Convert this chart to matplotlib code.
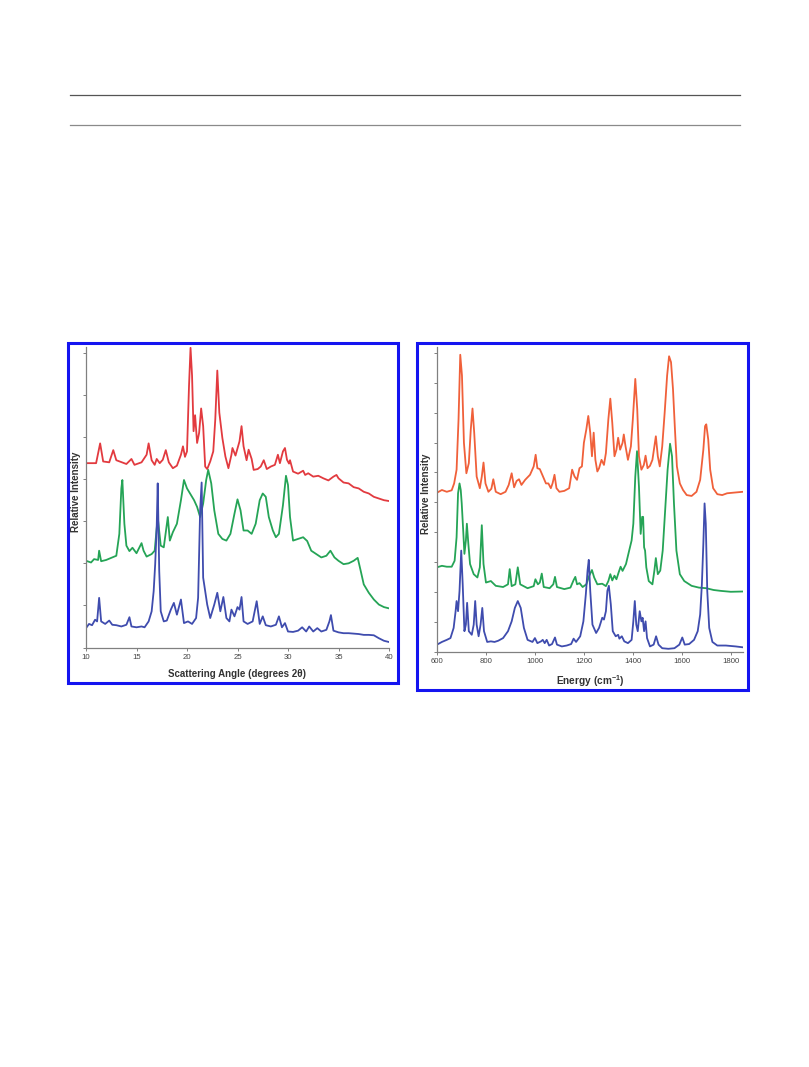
#
#   Imports
#

import matplotlib.pyplot as plt
from matplotlib.patches import Rectangle
from matplotlib.lines import Line2D

#
#   Data
#

# Left panel: powder X-ray diffraction, three samples
xrd_red_x = [10.0, 11.0, 11.4, 11.7, 12.3, 12.7, 13.0, 14.0, 14.5, 14.8, 15.5, 16.0, 16.2, 16.5,
             16.8, 17.0, 17.3, 17.6, 17.9, 18.2, 18.6, 19.0, 19.4, 19.6, 19.8, 20.0, 20.2, 20.35,
             20.5, 20.65, 20.8, 21.0, 21.2, 21.4, 21.6, 21.8, 22.0, 22.3, 22.6, 22.8, 23.0, 23.2,
             23.5, 23.8, 24.1, 24.4, 24.5, 24.8, 25.2, 25.4, 25.6, 25.9, 26.1, 26.4, 26.6, 27.0,
             27.3, 27.6, 27.9, 28.3, 28.7, 29.0, 29.2, 29.5, 29.7, 29.9, 30.1, 30.2, 30.5, 31.0,
             31.5, 31.7, 32.0, 32.5, 33.0, 33.5, 34.0, 34.5, 34.8, 35.0, 35.5, 36.0, 36.5, 37.0,
             37.5, 38.0, 38.5, 39.0, 39.5, 40.0]
xrd_red_y = [438, 438, 485, 442, 440, 469, 445, 436, 448, 434, 440, 458, 485, 445,
             434, 448, 438, 446, 469, 440, 426, 432, 458, 478, 453, 466, 622, 712,
             646, 514, 552, 486, 510, 568, 526, 430, 424, 442, 466, 542, 658, 558,
             498, 454, 426, 458, 474, 456, 490, 526, 478, 445, 470, 448, 422, 424,
             430, 445, 424, 430, 434, 458, 438, 466, 474, 446, 437, 445, 418, 413,
             420, 410, 414, 406, 408, 402, 397, 406, 410, 402, 392, 390, 381, 378,
             370, 366, 358, 354, 350, 348]

xrd_green_x = [10.0, 10.5, 10.8, 11.2, 11.3, 11.5, 12.0, 12.5, 13.0, 13.3, 13.5, 13.6, 13.8, 14.0,
               14.3, 14.6, 15.0, 15.5, 15.7, 16.0, 16.5, 16.8, 17.1, 17.4, 17.7, 18.1, 18.3, 18.6,
               19.0, 19.4, 19.7, 20.0, 20.3, 20.7, 21.0, 21.3, 21.6, 21.9, 22.1, 22.4, 22.7, 23.1,
               23.5, 23.9, 24.3, 24.7, 25.0, 25.3, 25.6, 26.0, 26.4, 26.8, 27.2, 27.5, 27.8, 28.1,
               28.5, 28.8, 29.1, 29.5, 29.8, 30.0, 30.2, 30.5, 31.0, 31.5, 31.9, 32.3, 32.8, 33.3,
               33.8, 34.2, 34.6, 35.0, 35.5, 36.0, 36.5, 36.9, 37.2, 37.5, 38.0, 38.5, 39.0, 39.5,
               40.0]
xrd_green_y = [206, 202, 210, 208, 230, 205, 208, 213, 218, 270, 378, 398, 294, 242,
               229, 237, 224, 248, 230, 216, 222, 230, 310, 242, 238, 310, 254, 274,
               294, 350, 398, 378, 366, 350, 334, 310, 342, 398, 422, 390, 326, 270,
               258, 254, 270, 318, 352, 326, 278, 278, 270, 294, 350, 366, 358, 310,
               278, 262, 270, 338, 408, 386, 310, 254, 258, 262, 253, 230, 222, 214,
               218, 230, 214, 206, 198, 200, 206, 213, 182, 150, 130, 114, 102, 96,
               93]

xrd_blue_x = [10.0, 10.3, 10.6, 10.9, 11.1, 11.3, 11.5, 11.9, 12.3, 12.6, 13.0, 13.5, 14.0, 14.3,
              14.5, 15.0, 15.5, 15.8, 16.2, 16.5, 16.7, 16.85, 17.0, 17.1, 17.25, 17.4, 17.7, 18.0,
              18.4, 18.7, 19.0, 19.4, 19.7, 20.1, 20.5, 20.9, 21.1, 21.3, 21.45, 21.6, 21.8, 22.0,
              22.3, 22.7, 23.0, 23.3, 23.6, 23.9, 24.2, 24.4, 24.7, 25.0, 25.2, 25.4, 25.6, 26.0,
              26.5, 26.9, 27.2, 27.5, 27.8, 28.3, 28.8, 29.1, 29.4, 29.7, 30.0, 30.5, 31.0, 31.4,
              31.8, 32.1, 32.5, 32.9, 33.3, 33.8, 34.1, 34.25, 34.5, 35.0, 35.5, 36.0, 36.5, 37.0,
              37.5, 38.0, 38.5, 39.0, 39.5, 40.0]
xrd_blue_y = [46, 56, 53, 66, 62, 118, 62, 56, 64, 54, 53, 50, 54, 72,
              50, 48, 50, 48, 62, 86, 134, 198, 286, 390, 182, 86, 62, 64,
              90, 106, 78, 114, 58, 62, 56, 70, 118, 326, 392, 166, 134, 102,
              70, 102, 130, 86, 120, 70, 62, 90, 74, 96, 90, 120, 62, 56,
              62, 110, 56, 74, 53, 50, 54, 74, 48, 58, 38, 37, 40, 48,
              38, 50, 38, 46, 38, 42, 62, 77, 40, 36, 34, 34, 33, 32,
              30, 30, 29, 22, 16, 13]

xrd_ticks = [10, 15, 20, 25, 30, 35, 40]

# Right panel: Raman spectra, three samples
raman_red_x = [600, 620, 640, 660, 670, 680, 688, 695, 702, 710, 720, 730, 738, 745, 752, 762, 775,
               783, 790, 798, 810, 822, 830, 840, 860, 880, 893, 905, 915, 925, 935, 945, 960,
               980, 995, 1003, 1010, 1020, 1030, 1045, 1055, 1065, 1072, 1080, 1088, 1100, 1120,
               1140, 1152, 1162, 1172, 1182, 1192, 1200, 1210, 1218, 1226, 1233, 1240, 1247, 1255,
               1262, 1272, 1282, 1290, 1300, 1308, 1316, 1325, 1333, 1340, 1348, 1358, 1363, 1370,
               1380, 1392, 1400, 1410, 1418, 1425, 1435, 1445, 1452, 1460, 1470, 1480, 1488, 1494,
               1502, 1510, 1520, 1530, 1540, 1548, 1556, 1564, 1572, 1580, 1592, 1605, 1620, 1640,
               1660, 1675, 1688, 1695, 1700, 1708, 1716, 1728, 1745, 1765, 1785, 1810, 1850]
raman_red_y = [532, 541, 535, 540, 563, 609, 778, 994, 924, 699, 597, 631, 744, 814, 733, 586, 547,
               586, 633, 563, 535, 545, 577, 535, 527, 535, 558, 597, 550, 571, 577, 558, 575,
               592, 620, 659, 614, 611, 592, 563, 563, 547, 563, 592, 547, 535, 538,
               547, 609, 586, 575, 614, 620, 699, 744, 789, 733, 654, 733, 642, 603,
               614, 642, 625, 665, 778, 847, 766, 654, 676, 716, 676, 699, 727, 688,
               642, 687, 778, 913, 811, 654, 609, 625, 656, 614, 622, 642, 687, 721,
               654, 620, 687, 800, 924, 989, 969, 879, 744, 620, 563, 541, 524, 521,
               535, 575, 676, 755, 761, 710, 609, 547, 527, 524, 530, 532, 535]

raman_green_x = [600, 620, 640, 660, 672, 680, 686, 692, 697, 701, 707, 712, 718, 722, 728, 735, 750,
                 765, 775, 783, 790, 800, 820, 840, 870, 890, 897, 905, 920, 930, 940, 970, 995,
                 1002, 1012, 1020, 1028, 1036, 1060, 1075, 1082, 1090, 1120, 1145, 1158, 1165, 1172,
                 1182, 1195, 1210, 1222, 1233, 1242, 1255, 1275, 1290, 1300, 1308, 1316, 1325, 1333,
                 1342, 1350, 1358, 1372, 1385, 1395, 1402, 1410, 1417, 1425, 1432, 1438, 1442, 1446,
                 1450, 1455, 1465, 1480, 1488, 1494, 1502, 1512, 1522, 1532, 1542, 1552, 1560, 1568,
                 1578, 1592, 1610, 1640, 1670, 1700, 1730, 1760, 1800, 1850]
raman_green_y = [282, 287, 284, 284, 304, 383, 530, 563, 541, 496, 406, 327, 372, 428, 361, 293, 259,
                 248, 282, 423, 293, 231, 236, 220, 216, 225, 276, 219, 225, 282, 225, 212, 219,
                 242, 225, 231, 261, 216, 212, 225, 250, 216, 209, 214, 239, 250, 225,
                 229, 216, 225, 254, 273, 248, 225, 227, 219, 236, 259, 238, 254, 242,
                 265, 284, 270, 293, 338, 372, 428, 586, 671, 552, 394, 451, 451, 349,
                 338, 282, 236, 225, 271, 313, 259, 271, 338, 473, 609, 696, 654, 496,
                 338, 259, 236, 220, 214, 212, 206, 203, 200, 201]

raman_blue_x = [600, 620, 640, 655, 668, 676, 680, 686, 692, 699, 705, 712, 718, 723, 730, 742, 750,
                756, 762, 770, 778, 785, 792, 805, 820, 835, 850, 870, 890, 905, 918, 930, 942,
                955, 970, 990, 1000, 1010, 1025, 1032, 1040, 1048, 1058, 1070, 1082, 1090, 1110,
                1130, 1148, 1158, 1168, 1185, 1198, 1208, 1215, 1220, 1226, 1235, 1250, 1262, 1275,
                1282, 1290, 1296, 1302, 1310, 1318, 1330, 1340, 1345, 1355, 1365, 1380, 1395, 1402,
                1408, 1414, 1420, 1428, 1435, 1440, 1446, 1452, 1458, 1470, 1485, 1495, 1505, 1520,
                1545, 1570, 1590, 1602, 1612, 1630, 1650, 1665, 1675, 1682, 1688, 1693, 1698, 1704,
                1712, 1725, 1745, 1780, 1820, 1850]
raman_blue_y = [23, 32, 39, 45, 79, 135, 169, 135, 203, 338, 225, 68, 90, 163, 68, 56, 90,
                169, 90, 51, 90, 146, 68, 32, 34, 32, 36, 45, 68, 101, 146, 169, 146,
                79, 39, 32, 45, 28, 34, 39, 28, 39, 20, 25, 47, 23, 17,
                20, 25, 43, 32, 51, 101, 192, 271, 307, 203, 90, 62, 79, 113,
                107, 135, 203, 220, 158, 68, 51, 56, 43, 51, 34, 28, 39, 101,
                169, 90, 68, 135, 101, 113, 68, 101, 45, 17, 23, 51, 23, 11,
                9, 11, 23, 47, 23, 25, 39, 68, 124, 225, 361, 496, 428, 203,
                79, 32, 20, 20, 17, 14]

raman_ticks = [600, 800, 1000, 1200, 1400, 1600, 1800]

#
#   Styling
#

RED = "#e23a3f"
GREEN = "#25a456"
BLUE = "#3f4cae"
ORANGE = "#f0603a"
BORDER = "#1414f0"
TEXT = "#333333"
AXIS = "#808080"

plt.rcParams["font.family"] = ["Liberation Sans", "DejaVu Sans"]
plt.rcParams["mathtext.fontset"] = "custom"
plt.rcParams["mathtext.rm"] = "Liberation Sans"
plt.rcParams["mathtext.bf"] = "Liberation Sans:bold"

W, H = 809, 1067
fig = plt.figure(figsize=(W / 100, H / 100), dpi=100)


def px_box(x0, y0, x1, y1):
    # pixel box (top-left origin) -> figure fraction [left, bottom, width, height]
    return [x0 / W, 1 - y1 / H, (x1 - x0) / W, (y1 - y0) / H]


def style_axes(ax):
    for side in ["top", "right"]:
        ax.spines[side].set_visible(False)
    for side in ["left", "bottom"]:
        ax.spines[side].set_color(AXIS)
        ax.spines[side].set_linewidth(0.9)
    ax.tick_params(axis="y", direction="out", length=2.5, width=0.7, color=AXIS, labelleft=False)
    ax.tick_params(axis="x", direction="out", length=2, width=0.7, color=AXIS,
                   labelsize=5.6, labelcolor="#444444", pad=2.5)


# Horizontal rules at the top of the page
fig.add_artist(Line2D([70 / W, 740 / W], [1 - 95 / H, 1 - 95 / H], color="#555555", lw=0.9))
fig.add_artist(Line2D([70 / W, 740 / W], [1 - 125 / H, 1 - 125 / H], color="#8a8a8a", lw=0.9))

# Left panel
ax1 = fig.add_axes(px_box(86, 347, 389, 647.5))
ax1.plot(xrd_red_x, xrd_red_y, color=RED, lw=1.3)
ax1.plot(xrd_green_x, xrd_green_y, color=GREEN, lw=1.3)
ax1.plot(xrd_blue_x, xrd_blue_y, color=BLUE, lw=1.3)
ax1.set_xlim(10, 40)
ax1.set_ylim(0, 714)
ax1.set_xticks(xrd_ticks)
ax1.set_yticks(range(0, 701, 100))
style_axes(ax1)
ax1.set_xlabel("Scattering Angle (degrees 2θ)", fontsize=7, fontweight="bold", color=TEXT, labelpad=6)
ax1.set_ylabel("Relative Intensity", fontsize=7, fontweight="bold", color=TEXT)
ax1.yaxis.set_label_coords(-0.016, 0.519)

# Right panel
ax2 = fig.add_axes(px_box(437, 347, 743, 651.5))
ax2.plot(raman_red_x, raman_red_y, color=ORANGE, lw=1.3)
ax2.plot(raman_green_x, raman_green_y, color=GREEN, lw=1.3)
ax2.plot(raman_blue_x, raman_blue_y, color=BLUE, lw=1.3)
ax2.set_xlim(600, 1850)
ax2.set_ylim(0, 1020)
ax2.set_xticks(raman_ticks)
ax2.set_yticks(range(0, 1001, 100))
style_axes(ax2)
ax2.set_xlabel(r"Energy (cm$^{\mathbf{-1}}$)", fontsize=7.3, fontweight="bold", color=TEXT, labelpad=6)
ax2.set_ylabel("Relative Intensity", fontsize=7, fontweight="bold", color=TEXT)
ax2.yaxis.set_label_coords(-0.02, 0.517)

# Blue frames around both panels
for box in [px_box(67.5, 342.5, 397.5, 682.5), px_box(417.5, 342.5, 747.5, 689.5)]:
    fig.add_artist(Rectangle((box[0], box[1]), box[2], box[3], transform=fig.transFigure,
                             fill=False, edgecolor=BORDER, lw=2.2))

fig.savefig("out.png", dpi=100)
